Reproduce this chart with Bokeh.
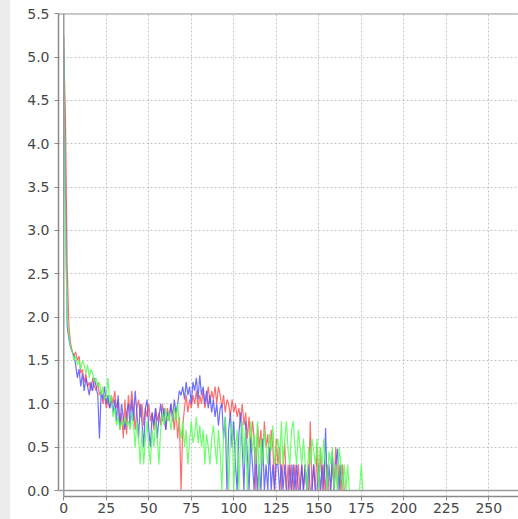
from bokeh.plotting import figure
from bokeh.models import Range1d, FixedTicker, NumeralTickFormatter, Span
from bokeh.embed import file_html
from bokeh.resources import INLINE

# ---- data ----
bins = list(range(256))

series_red = [
    5.1, 4.3, 2.6, 1.9, 1.7, 1.6, 1.55, 1.6, 1.5, 1.55, 1.35, 1.4, 1.25, 1.35, 1.2, 1.25,
    1.15, 1.3, 1.2, 1.15, 1.25, 1.1, 1.15, 1.0, 1.1, 0.95, 1.05, 0.95, 1.1, 1.0, 1.15, 0.95,
    1.05, 0.7, 0.9, 0.6, 1.05, 0.65, 1.1, 0.9, 1.15, 0.95, 0.7, 0.95, 1.05, 0.85, 1.0, 0.75,
    0.95, 0.85, 1.0, 0.8, 0.9, 0.7, 0.95, 0.8, 0.9, 0.75, 1.0, 0.85, 0.7, 0.95, 0.8, 1.0,
    0.9, 0.7, 0.95, 0.6, 0.85, 0.0, 0.75, 0.95, 1.1, 0.9, 1.05, 0.95, 1.1, 1.0, 1.15, 0.95,
    1.1, 1.0, 1.15, 0.95, 1.05, 1.2, 1.0, 1.15, 1.05, 1.2, 1.0, 1.2, 1.1, 0.95, 1.1, 0.9,
    1.05, 1.0, 0.85, 1.05, 0.9, 1.0, 0.85, 0.95, 0.8, 1.0, 0.75, 0.9, 0.6, 0.85, 0.5, 0.8,
    0.6, 0.0, 0.75, 0.5, 0.7, 0.3, 0.8, 0.5, 0.65, 0.3, 0.7, 0.5, 0.0, 0.6, 0.3, 0.5,
    0.0, 0.3, 0.55, 0.0, 0.3, 0.0, 0.3, 0.0, 0.3, 0.0, 0.3, 0.0, 0.3, 0.0, 0.3, 0.0,
    0.0, 0.8, 0.0, 0.3, 0.0, 0.5, 0.0, 0.5, 0.0, 0.3, 0.0, 0.3, 0.0, 0.0, 0.3, 0.0,
    0.5, 0.0, 0.3, 0.0, 0.3, 0.0, 0.0, 0.0, 0.0, 0.0, 0.0, 0.0, 0.0, 0.0, 0.0, 0.0,
    0.0, 0.0, 0.0, 0.0, 0.0, 0.0, 0.0, 0.0, 0.0, 0.0, 0.0, 0.0, 0.0, 0.0, 0.0, 0.0,
    0.0, 0.0, 0.0, 0.0, 0.0, 0.0, 0.0, 0.0, 0.0, 0.0, 0.0, 0.0, 0.0, 0.0, 0.0, 0.0,
    0.0, 0.0, 0.0, 0.0, 0.0, 0.0, 0.0, 0.0, 0.0, 0.0, 0.0, 0.0, 0.0, 0.0, 0.0, 0.0,
    0.0, 0.0, 0.0, 0.0, 0.0, 0.0, 0.0, 0.0, 0.0, 0.0, 0.0, 0.0, 0.0, 0.0, 0.0, 0.0,
    0.0, 0.0, 0.0, 0.0, 0.0, 0.0, 0.0, 0.0, 0.0, 0.0, 0.0, 0.0, 0.0, 0.0, 0.0, 0.0,
]

series_blue = [
    5.25, 3.4, 1.9, 1.75, 1.65, 1.6, 1.55, 1.45, 1.3, 1.4, 1.2, 1.35, 1.15, 1.3, 1.2, 1.1,
    1.25, 1.15, 1.3, 1.2, 1.1, 0.6, 1.15, 1.05, 1.2, 1.0, 1.1, 0.95, 1.05, 0.9, 1.05, 0.8,
    1.1, 0.75, 1.0, 0.85, 0.7, 0.9, 1.0, 0.75, 1.05, 0.8, 1.15, 0.9, 0.6, 1.0, 0.8, 0.5,
    0.95, 1.05, 0.7, 0.5, 0.9, 0.75, 0.95, 0.6, 0.85, 1.0, 0.8, 0.95, 0.7, 0.9, 0.85, 1.0,
    0.8, 1.05, 0.9, 1.0, 1.15, 1.1, 1.2, 1.05, 1.25, 1.1, 1.2, 1.0, 1.25, 1.15, 1.3, 1.05,
    1.33, 1.1, 1.2, 1.0, 1.15, 0.95, 1.1, 0.9, 1.05, 0.85, 1.0, 0.75, 0.95, 1.0, 0.6, 0.85,
    0.0, 0.7, 0.9, 0.5, 0.8, 0.3, 0.0, 0.65, 0.9, 0.5, 0.0, 0.8, 0.4, 0.0, 0.6, 0.3,
    0.0, 0.5, 0.0, 0.3, 0.0, 0.6, 0.0, 0.3, 0.0, 0.5, 0.0, 0.3, 0.0, 0.3, 0.3, 0.0,
    0.3, 0.0, 0.3, 0.0, 0.0, 0.3, 0.0, 0.3, 0.0, 0.3, 0.0, 0.0, 0.3, 0.0, 0.3, 0.0,
    0.3, 0.0, 0.0, 0.3, 0.0, 0.0, 0.3, 0.0, 0.3, 0.0, 0.72, 0.0, 0.3, 0.0, 0.45, 0.0,
    0.3, 0.48, 0.0, 0.3, 0.0, 0.0, 0.0, 0.0, 0.0, 0.0, 0.0, 0.0, 0.0, 0.0, 0.0, 0.0,
    0.0, 0.0, 0.0, 0.0, 0.0, 0.0, 0.0, 0.0, 0.0, 0.0, 0.0, 0.0, 0.0, 0.0, 0.0, 0.0,
    0.0, 0.0, 0.0, 0.0, 0.0, 0.0, 0.0, 0.0, 0.0, 0.0, 0.0, 0.0, 0.0, 0.0, 0.0, 0.0,
    0.0, 0.0, 0.0, 0.0, 0.0, 0.0, 0.0, 0.0, 0.0, 0.0, 0.0, 0.0, 0.0, 0.0, 0.0, 0.0,
    0.0, 0.0, 0.0, 0.0, 0.0, 0.0, 0.0, 0.0, 0.0, 0.0, 0.0, 0.0, 0.0, 0.0, 0.0, 0.0,
    0.0, 0.0, 0.0, 0.0, 0.0, 0.0, 0.0, 0.0, 0.0, 0.0, 0.0, 0.0, 0.0, 0.0, 0.0, 0.0,
]

series_green = [
    5.15, 3.0, 2.0, 1.8, 1.65, 1.6, 1.5, 1.55, 1.45, 1.5, 1.4, 1.5, 1.45, 1.35, 1.45, 1.3,
    1.4, 1.35, 1.25, 1.3, 1.2, 1.25, 1.1, 1.2, 1.05, 1.1, 1.3, 1.0, 1.1, 0.85, 0.95, 0.75,
    0.85, 0.7, 0.8, 0.75, 0.85, 0.75, 0.8, 0.7, 0.9, 0.75, 0.5, 0.8, 0.6, 0.3, 0.7, 0.3,
    0.6, 0.8, 0.5, 0.3, 0.7, 0.5, 0.8, 0.6, 0.3, 0.7, 0.9, 0.75, 0.95, 0.8, 0.9, 0.7,
    0.85, 0.95, 0.8, 1.0, 0.75, 0.6, 0.8, 0.5, 0.7, 0.3, 0.55, 0.8, 0.55, 0.65, 0.85, 0.55,
    0.75, 0.5, 0.7, 0.3, 0.65, 0.5, 0.3, 0.6, 0.75, 0.5, 0.3, 0.7, 0.45, 0.0, 0.65, 0.85,
    0.5, 0.0, 0.6, 0.8, 0.0, 0.5, 0.7, 0.0, 0.6, 0.8, 0.3, 0.7, 0.0, 0.5, 0.8, 0.45,
    0.65, 0.3, 0.8, 0.0, 0.6, 0.3, 0.7, 0.5, 0.3, 0.65, 0.45, 0.75, 0.3, 0.5, 0.6, 0.3,
    0.8, 0.3, 0.6, 0.8, 0.45, 0.3, 0.7, 0.8, 0.5, 0.3, 0.7, 0.5, 0.3, 0.6, 0.3, 0.0,
    0.5, 0.3, 0.6, 0.45, 0.3, 0.6, 0.0, 0.5, 0.3, 0.6, 0.3, 0.0, 0.45, 0.3, 0.5, 0.0,
    0.3, 0.0, 0.5, 0.3, 0.0, 0.3, 0.0, 0.3, 0.0, 0.0, 0.0, 0.0, 0.0, 0.0, 0.0, 0.3,
    0.0, 0.0, 0.0, 0.0, 0.0, 0.0, 0.0, 0.0, 0.0, 0.0, 0.0, 0.0, 0.0, 0.0, 0.0, 0.0,
    0.0, 0.0, 0.0, 0.0, 0.0, 0.0, 0.0, 0.0, 0.0, 0.0, 0.0, 0.0, 0.0, 0.0, 0.0, 0.0,
    0.0, 0.0, 0.0, 0.0, 0.0, 0.0, 0.0, 0.0, 0.0, 0.0, 0.0, 0.0, 0.0, 0.0, 0.0, 0.0,
    0.0, 0.0, 0.0, 0.0, 0.0, 0.0, 0.0, 0.0, 0.0, 0.0, 0.0, 0.0, 0.0, 0.0, 0.0, 0.0,
    0.0, 0.0, 0.0, 0.0, 0.0, 0.0, 0.0, 0.0, 0.0, 0.0, 0.0, 0.0, 0.0, 0.0, 0.0, 0.0,
]

x_ticks = [0, 25, 50, 75, 100, 125, 150, 175, 200, 225, 250]
y_ticks = [0.0, 0.5, 1.0, 1.5, 2.0, 2.5, 3.0, 3.5, 4.0, 4.5, 5.0, 5.5]

# ---- figure ----
p = figure(width=518, height=519, output_backend="svg", toolbar_location=None,
           x_range=Range1d(-3.1, 267.5), y_range=Range1d(-0.069, 5.503),
           min_border_left=58, min_border_top=13, min_border_right=0, min_border_bottom=23)
p.outline_line_color = None
p.background_fill_color = "white"
p.border_fill_color = "white"
p.border_fill_alpha = 0.0
p.styles = {"box-shadow": "inset 10px 0 0 0 #ececec", "background-color": "white"}

for g, t in ((p.xgrid, x_ticks), (p.ygrid, y_ticks)):
    g.ticker = FixedTicker(ticks=t)
    g.grid_line_color = "#c4c4c4"
    g.grid_line_dash = "2 2"
    g.grid_line_width = 1

p.xaxis.ticker = FixedTicker(ticks=x_ticks)
p.yaxis.ticker = FixedTicker(ticks=y_ticks)
p.yaxis.formatter = NumeralTickFormatter(format="0.0")
p.xaxis.bounds = (0, 267.5)
p.yaxis.bounds = (0, 5.5)
for ax in (p.xaxis, p.yaxis):
    ax.axis_line_color = "#8a8a8a"
    ax.axis_line_width = 1.5
    ax.major_tick_line_color = "#8a8a8a"
    ax.major_tick_out = 4
    ax.major_tick_in = 0
    ax.minor_tick_line_color = None
    ax.major_label_text_font = "DejaVu Sans"
    ax.major_label_text_font_size = "14px"
    ax.major_label_text_color = "#474747"
p.xaxis.major_label_standoff = 2
p.yaxis.major_label_standoff = 5

for loc, dim in ((0, "height"), (0, "width"), (5.5, "width")):
    p.add_layout(Span(location=loc, dimension=dim, line_color="#9a9a9a", line_width=1.5))

p.line(bins, series_red, line_color="#ff5555", line_width=1.2, line_alpha=0.85)
p.line(bins, series_blue, line_color="#5555ff", line_width=1.2, line_alpha=0.85)
p.line(bins, series_green, line_color="#55ff55", line_width=1.2, line_alpha=0.85)

open("out.html", "w").write(file_html(p, INLINE, title="chart"))
